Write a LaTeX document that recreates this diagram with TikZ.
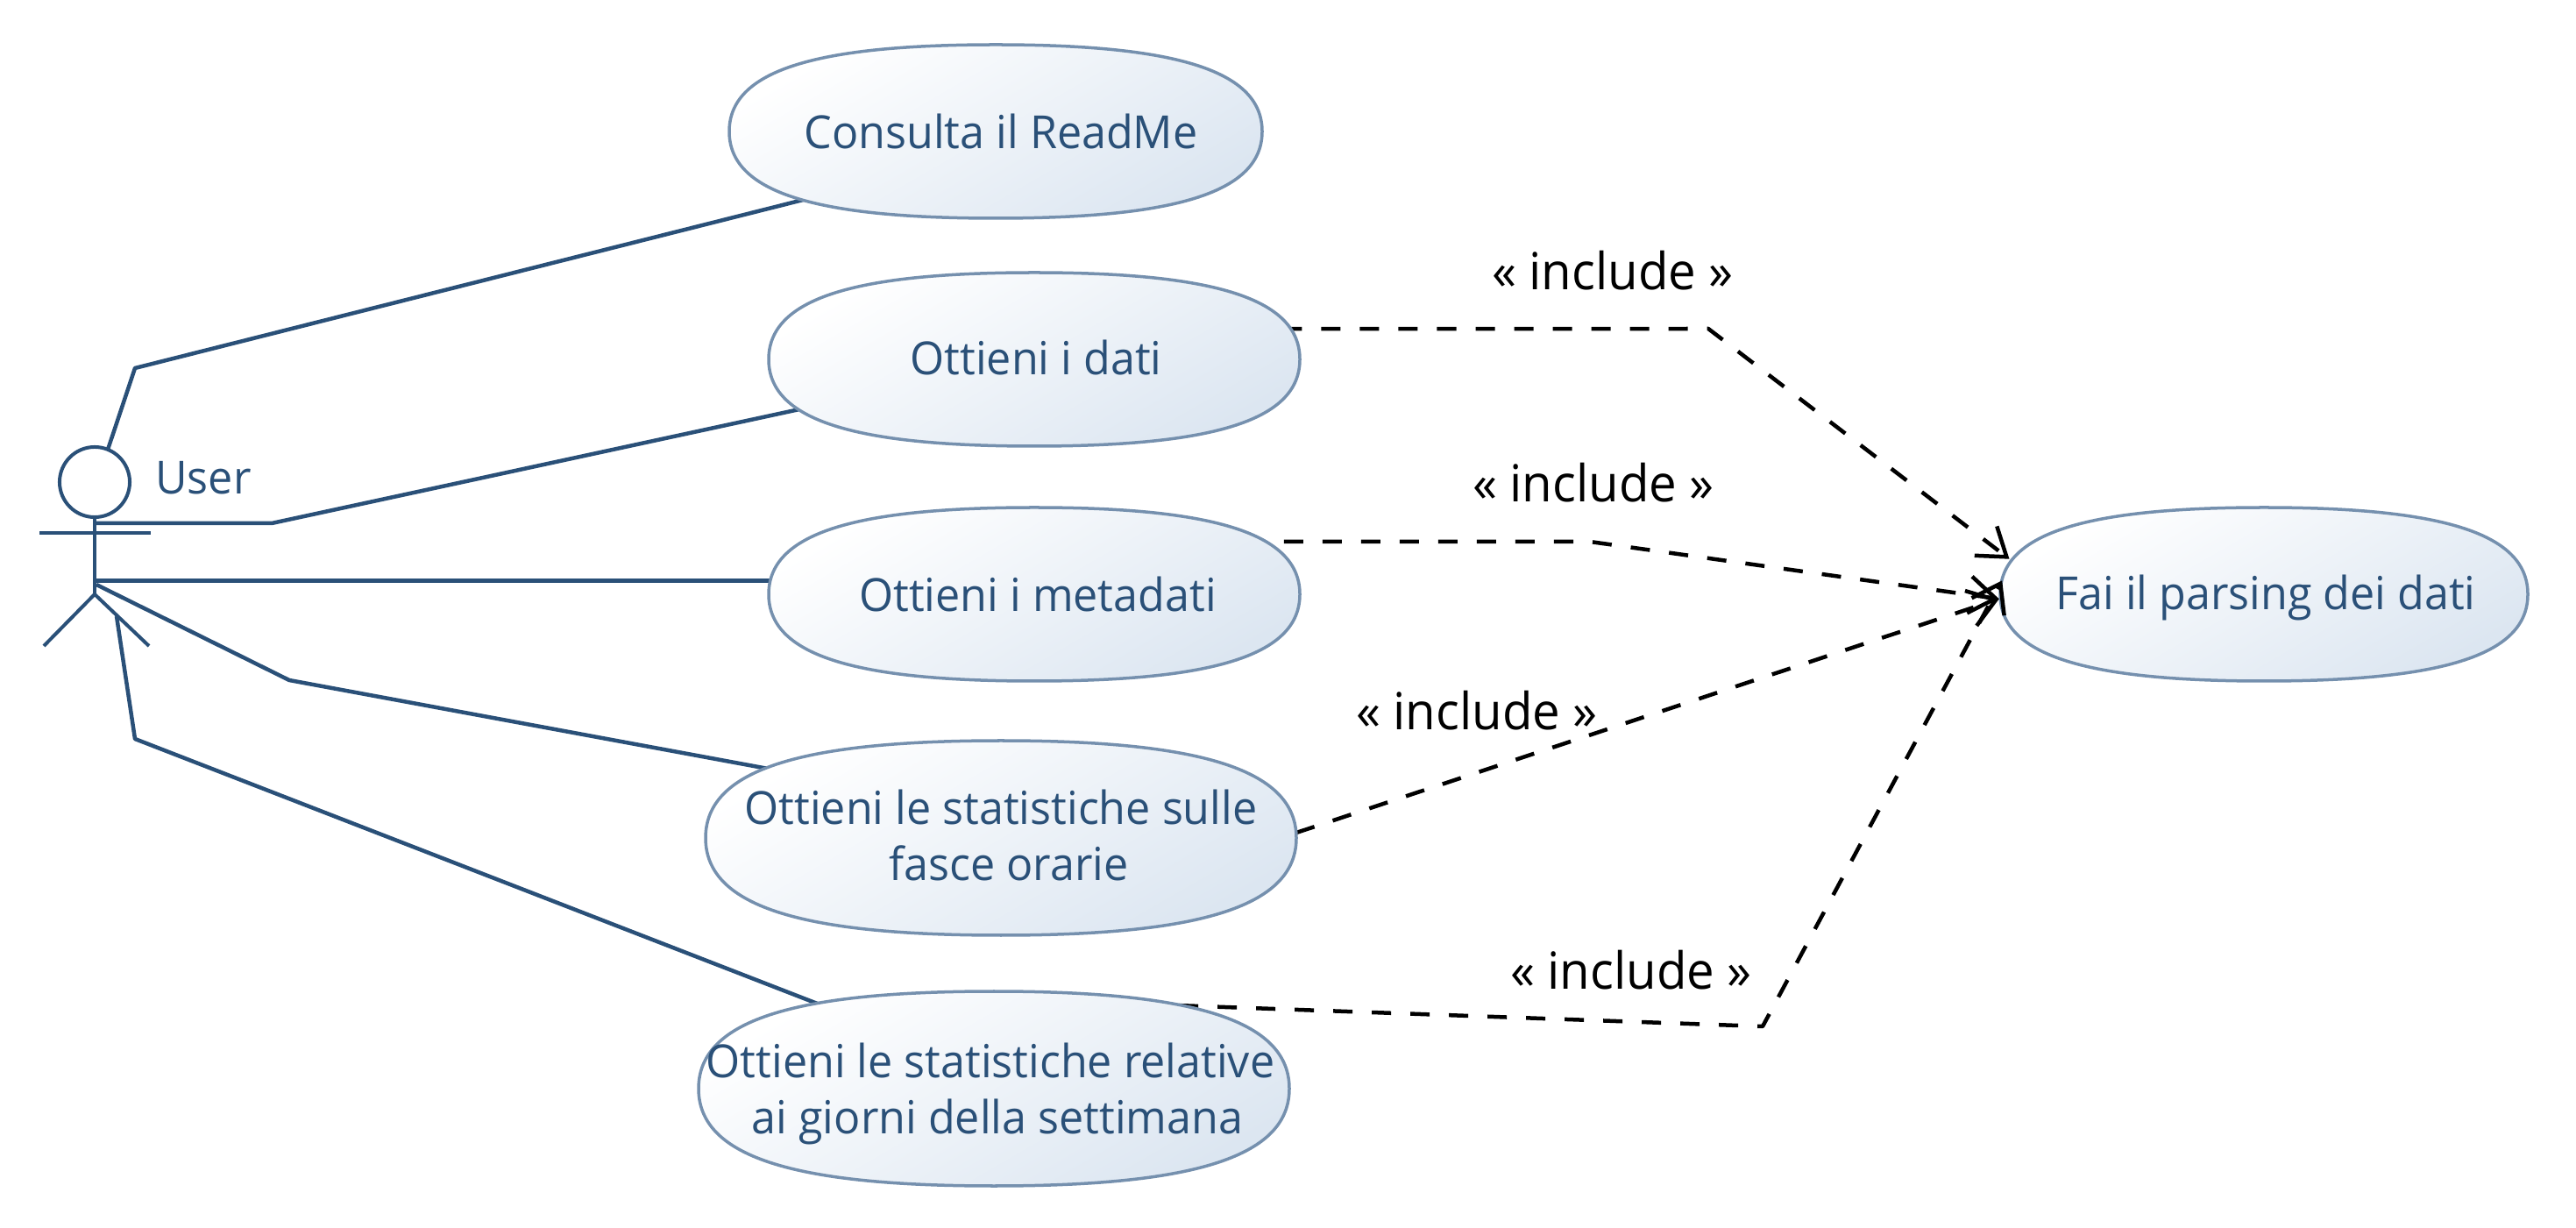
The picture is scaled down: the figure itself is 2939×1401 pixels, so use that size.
\documentclass[tikz,border=0pt]{standalone}
\usepackage{fontspec}
\setmainfont[FakeStretch=.965]{Open Sans}
\usetikzlibrary{shapes.geometric,arrows.meta}
\definecolor{umlblue}{HTML}{2A5078}
\definecolor{umledge}{HTML}{7590AE}
\definecolor{umlfill}{HTML}{DCE6F1}
\newcommand{\casebody}[3]{\path[casefill,shift={(#1)},xscale=#2,yscale=#3]
    (-1,0) .. controls (-1,.69) and (-.69,1) .. (0,1)
    .. controls (.69,1) and (1,.69) .. (1,0)
    .. controls (1,-.69) and (.69,-1) .. (0,-1)
    .. controls (-.69,-1) and (-1,-.69) .. (-1,0) -- cycle;}
\begin{document}
\begin{tikzpicture}[x=.01cm,y=-.01cm,line join=round,
    >={Straight Barb[length=.3cm,width=.42cm]},
    usecase/.style={ellipse,inner sep=0pt,outer sep=0pt},
    casefill/.style={draw=umledge,line width=.035cm,
        top color=white,bottom color=umlfill,shading angle=30},
    casetext/.style={text=umlblue,align=center,font=\fontsize{14.8}{18.2}\selectfont},
    smallcase/.style={usecase,minimum width=6.05cm,minimum height=1.98cm},
    bigcase/.style={usecase,minimum width=6.74cm,minimum height=2.22cm},
    assoc/.style={draw=umlblue,line width=.045cm},
    stick/.style={draw=umlblue,line width=.04cm},
    include/.style={draw=black,line width=.045cm,dash pattern=on .22cm off .22cm,->},
    inclabel/.style={text=black,font=\fontsize{16.6}{18}\selectfont}]
    \useasboundingbox (0,0) rectangle (2939,1401);
    % use cases
    \node[smallcase] (readme) at (1136,150) {};
    \node[smallcase] (dati) at (1180,410) {};
    \node[smallcase] (metadati) at (1180,678) {};
    \node[bigcase] (fasce) at (1142,956) {};
    \node[bigcase] (giorni) at (1134,1242) {};
    \node[smallcase] (parsing) at (2583,678) {};
    % actor
    \node[circle,stick,minimum size=.8cm,inner sep=0pt,outer sep=0pt] (head) at (108,550) {};
    \node[casetext] (user) at (232,545) {User};
    \coordinate (hip) at (108,678);
    \coordinate (handl) at (45,608);
    \coordinate (handr) at (172,608);
    \coordinate (footl) at (50,737);
    \coordinate (footr) at (170,737);
    \draw[stick] (head.south)--(hip);
    \draw[stick] (handl)--(handr);
    \draw[stick] (footl)--(hip)--(footr);
    % associations
    \coordinate (neck) at (110,597);
    \coordinate (waistb) at (110,667);
    \coordinate (leg) at (133,703);
    \coordinate (benda) at (154,420);
    \coordinate (bendb) at (310,597);
    \coordinate (bendc) at (330,776);
    \coordinate (bendd) at (154,843);
    \draw[assoc] (head.68)--(benda)--(readme.200.1);
    \draw[assoc] (neck)--(bendb)--(dati.192.8);
    \draw[assoc] (metadati.177-|neck)--(metadati.177);
    \draw[assoc] (waistb)--(bendc)--(fasce.163.8);
    \draw[assoc] (leg)--(bendd)--(giorni.154.8);
    % includes, the tails run under the bodies
    \coordinate (inca) at (1949,375);
    \coordinate (incb) at (1814,618);
    \coordinate (incd) at (2011,1171);
    \casebody{parsing}{301}{99}
    \draw[include,shorten >=.09cm] (dati.7.05)--(inca)--(parsing.173.1);
    \draw[include] (metadati.14)--(incb)--(parsing.181);
    \draw[include] (fasce.1.3)--(parsing.181);
    \draw[include] (giorni.30)--(incd)--(parsing.177);
    \casebody{readme}{304}{99}
    \casebody{dati}{303}{99}
    \casebody{metadati}{303}{99}
    \casebody{fasce}{337}{111}
    \casebody{giorni}{337}{111}
    \node[casetext] (readmetext) at (1142,150) {Consulta il ReadMe};
    \node[casetext] (datitext) at (1182,408) {Ottieni i dati};
    \node[casetext] (metadatitext) at (1184,678) {Ottieni i metadati};
    \node[casetext] (fascetext) at (1142,953) {Ottieni le statistiche sulle\\\hspace{.18cm}fasce orarie};
    \node[casetext] (giornitext) at (1130,1248) {Ottieni le statistiche relative\\\hspace{.16cm}ai giorni della settimana};
    \node[casetext] (parsingtext) at (2585,682) {Fai il parsing dei dati};
    \node[inclabel] (labela) at (1840,309) {« include »};
    \node[inclabel] (labelb) at (1818,551) {« include »};
    \node[inclabel] (labelc) at (1685,811) {« include »};
    \node[inclabel] (labeld) at (1861,1107) {« include »};
\end{tikzpicture}
\end{document}
